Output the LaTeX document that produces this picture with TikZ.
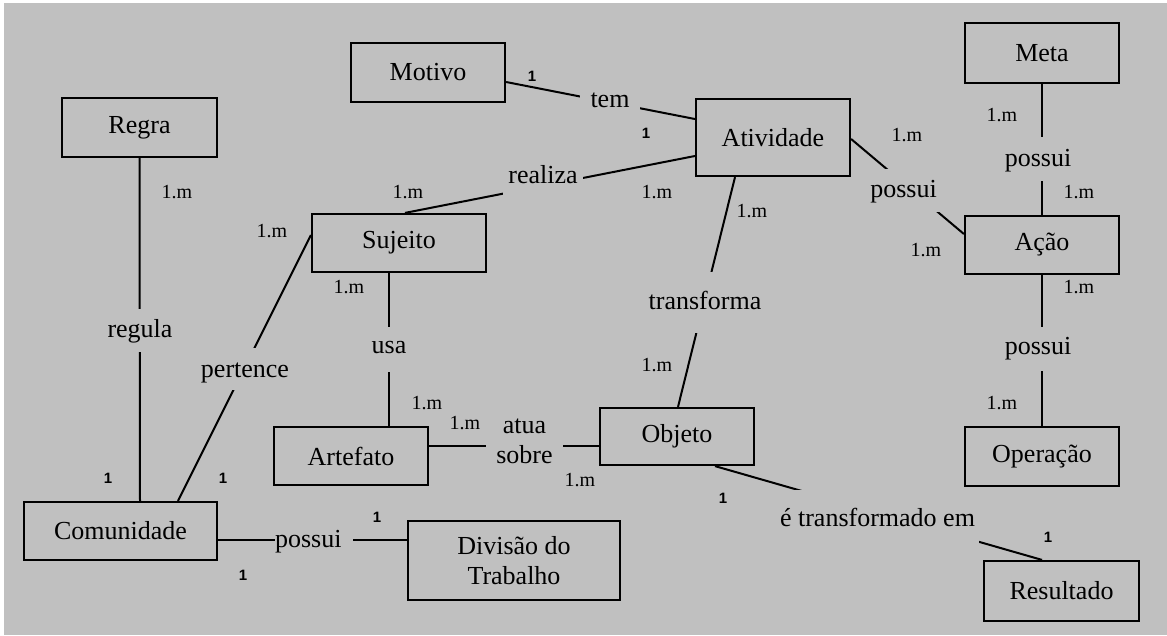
\documentclass[tikz,border=0pt]{standalone}
\usepackage{fontspec}
\setmainfont{Liberation Serif}
\newfontfamily\cardsans{Liberation Sans}
\usetikzlibrary{calc}
\definecolor{bg}{HTML}{C0C0C0}
\newcommand\boxfont{\fontsize{26}{30}\selectfont}
\newcommand\multfont{\fontsize{20}{24}\selectfont}
\newcommand\onefont{\cardsans\bfseries\fontsize{15}{18}\selectfont}
\begin{document}
\begin{tikzpicture}[x=1pt,y=-1pt,
  ent/.style={draw, line width=2.2pt, fill=bg, font=\boxfont, inner sep=0pt, align=center},
  rel/.style={line width=2pt},
  lbl/.style={fill=bg, inner sep=0pt, anchor=base, font=\boxfont, align=center},
  mult/.style={font=\multfont, inner sep=0pt},
  one/.style={font=\onefont, inner sep=0pt}]
\useasboundingbox (0,0) rectangle (1167,635);
\fill[bg] (4,3) rectangle (1167,635);

% entities
\node[ent, minimum width=155pt, minimum height=59pt] (regra) at (139.5,127.5) {Regra};
\node[ent, minimum width=154pt, minimum height=59pt] (mot) at (428,72.5) {Motivo};
\node[ent, minimum width=154pt, minimum height=77pt] (ativ) at (773,137.5) {Atividade};
\node[ent, minimum width=154pt, minimum height=60pt] (meta) at (1042,53) {Meta};
\node[ent, minimum width=154pt, minimum height=58pt] (acao) at (1042,245) {Ação};
\node[ent, minimum width=154pt, minimum height=59pt] (op) at (1042,456.5) {Operação};
\node[ent, minimum width=155pt, minimum height=60pt] (res) at (1061.5,591) {Resultado};
\node[ent, minimum width=174pt, minimum height=58pt] (suj) at (399,243) {Sujeito};
\node[ent, minimum width=154pt, minimum height=58pt] (art) at (351,456) {Artefato};
\node[ent, minimum width=154pt, minimum height=57pt] (obj) at (677,436.5) {Objeto};
\node[ent, minimum width=193pt, minimum height=58pt] (com) at (120.5,531) {Comunidade};
\node[ent, minimum width=212pt, minimum height=79pt] (div) at (514,560.5) {Divisão do\\Trabalho};

% relationships
\draw[rel] (regra.south) -- ($(com.north)+(19.5,0)$);
\draw[rel] ($(suj.west)+(0,-8)$) -- ($(com.north)+(57.5,0)$);
\draw[rel] ($(suj.south)+(-10,0)$) -- ($(art.north)+(38,0)$);
\draw[rel] ($(suj.north)+(6,0)$) -- ($(ativ.west)+(0,18.5)$);
\draw[rel] ($(mot.east)+(0,9.5)$) -- ($(ativ.west)+(0,-18.5)$);
\draw[rel] ($(ativ.south)+(-38,0)$) -- ($(obj.north)+(1,0)$);
\draw[rel] ($(ativ.east)+(0,1.5)$) -- ($(acao.west)+(0,-11)$);
\draw[rel] (meta.south) -- (acao.north);
\draw[rel] (acao.south) -- (op.north);
\draw[rel] ($(art.east)+(0,-10)$) -- ($(obj.west)+(0,9.5)$);
\draw[rel] ($(com.east)+(0,9)$) -- ($(div.west)+(0,-20.5)$);
\draw[rel] ($(obj.south)+(38,0)$) -- ($(res.north)+(-19.5,0)$);

% relationship labels
\node[lbl, text height=28pt, text depth=15pt] (regula) at (140,337) {regula};
\node[lbl, text height=29pt, text depth=13pt] (pertence) at (245,377) {pertence};
\node[lbl, text height=26pt, text depth=19pt] (usa) at (389,353) {usa};
\node[lbl, minimum width=80pt, text height=20pt, text depth=15pt] (realiza) at (543,183) {realiza};
\node[lbl, minimum width=60pt, text height=18pt, text depth=4pt] (tem) at (610,107) {tem};
\node[lbl, text height=37pt, text depth=24pt] (transforma) at (705,309) {transforma};
\node[lbl, minimum width=75pt, text height=28pt, text depth=15pt] (possuiA) at (903.5,197) {possui};
\node[lbl, text height=29pt, text depth=15pt] (possuiB) at (1038,166) {possui};
\node[lbl, text height=27.5pt, text depth=16.5pt] (possuiC) at (1038,354.5) {possui};
\node[lbl, minimum width=77pt, anchor=center, inner ysep=2pt] (atua) at (524.5,441.5) {atua\\sobre};
\node[lbl, text height=20pt, text depth=8pt] (possuiD) at (314,547) {possui\hspace{11.5pt}};
\node[lbl, minimum width=203pt, text height=36pt, text depth=18pt] (etransf) at (877.5,526) {é transformado em};

% multiplicities
\node[mult] (m1) at (177,192) {1.m};
\node[mult] (m2) at (272,231) {1.m};
\node[mult] (m3) at (349,287) {1.m};
\node[mult] (m4) at (408,192) {1.m};
\node[mult] (m5) at (657,192) {1.m};
\node[mult] (m6) at (752,211) {1.m};
\node[mult] (m7) at (907,135) {1.m};
\node[mult] (m8) at (926,250) {1.m};
\node[mult] (m9) at (1002,115) {1.m};
\node[mult] (m10) at (1079,192) {1.m};
\node[mult] (m11) at (1079,287) {1.m};
\node[mult] (m12) at (1002,403) {1.m};
\node[mult] (m13) at (427,403) {1.m};
\node[mult] (m14) at (465,423) {1.m};
\node[mult] (m15) at (580,480) {1.m};
\node[mult] (m16) at (657,365) {1.m};

\node[one] (o1) at (532,76) {1};
\node[one] (o2) at (646,133) {1};
\node[one] (o3) at (108,478) {1};
\node[one] (o4) at (223,478) {1};
\node[one] (o5) at (243,575) {1};
\node[one] (o6) at (377,517) {1};
\node[one] (o7) at (723,498) {1};
\node[one] (o8) at (1048,537) {1};
\end{tikzpicture}
\end{document}
